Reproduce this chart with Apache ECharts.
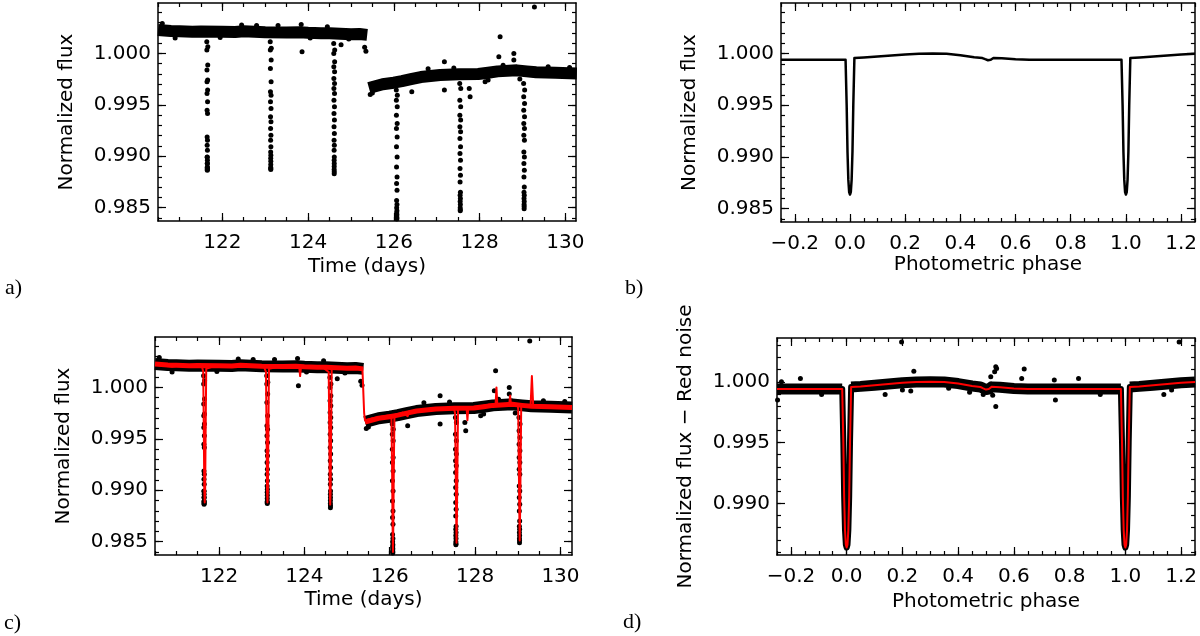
<!DOCTYPE html>
<html>
<head>
<meta charset="utf-8">
<script src="https://cdn.jsdelivr.net/npm/echarts@6/dist/echarts.min.js"></script>
<style>
  html, body { margin: 0; background: #fff; }
  #chart { width: 1200px; height: 636px; }
</style>
</head>
<body>
<div id="chart"></div>
<script>
// ---- tick values ----
const timeTicks = [122, 124, 126, 128, 130]
const timeMinor = [120.5, 121, 121.5, 122, 122.5, 123, 123.5, 124, 124.5, 125, 125.5, 126, 126.5, 127, 127.5, 128, 128.5, 129, 129.5, 130]
const phaseTicks = [-0.2, 0, 0.2, 0.4, 0.6, 0.8, 1.0, 1.2]
const phaseMinor = [-0.25, -0.2, -0.15, -0.1, -0.05, 0, 0.05, 0.1, 0.15, 0.2, 0.25, 0.3, 0.35, 0.4, 0.45, 0.5, 0.55, 0.6, 0.65, 0.7, 0.75, 0.8, 0.85, 0.9, 0.95, 1.0, 1.05, 1.1, 1.15, 1.2, 1.25]
const fluxTicks = [0.985, 0.990, 0.995, 1.000]
const fluxMinor = [0.984, 0.985, 0.986, 0.987, 0.988, 0.989, 0.990, 0.991, 0.992, 0.993, 0.994, 0.995, 0.996, 0.997, 0.998, 0.999, 1.000, 1.001, 1.002, 1.003, 1.004]
const fluxTicksD = [0.990, 0.995, 1.000]
const fluxMinorD = [0.986, 0.987, 0.988, 0.989, 0.990, 0.991, 0.992, 0.993, 0.994, 0.995, 0.996, 0.997, 0.998, 0.999, 1.000, 1.001, 1.002, 1.003]

// ---- light curve: dense out-of-eclipse band (centre of the black band) ----
const band1T = [120.50, 120.8, 121.0, 121.3, 121.5, 122.0, 122.3, 122.5, 123.0, 123.5, 123.8, 124.0, 124.3, 124.5, 125.0, 125.2, 125.38]
const band1F = [1.00228, 1.00218, 1.00215, 1.00210, 1.00212, 1.00210, 1.00208, 1.00215, 1.00205, 1.00203, 1.00206, 1.00200, 1.00197, 1.00195, 1.00185, 1.00188, 1.00180]
const band2T = [125.42, 125.74, 126.00, 126.19, 126.40, 126.63, 127.08, 127.52, 127.97, 128.20, 128.42, 128.87, 129.10, 129.32, 129.77, 130.27]
const band2F = [0.99663, 0.99700, 0.99715, 0.99730, 0.99750, 0.99770, 0.99790, 0.99798, 0.99800, 0.99812, 0.99825, 0.99835, 0.99825, 0.99817, 0.99812, 0.99805]

// ---- light curve: in-eclipse points ----
const dip1 = [[121.638,1.00114],[121.662,1.00065],[121.640,1.00032],[121.660,0.99886],[121.642,0.99838],[121.658,0.99740],[121.643,0.99724],[121.657,0.99643],[121.644,0.99610],[121.656,0.99529],[121.645,0.99448],[121.655,0.99416],[121.646,0.99188],[121.654,0.99156],[121.647,0.99107],[121.653,0.99058],[121.648,0.98993],[121.652,0.98961],[121.649,0.98928],[121.651,0.98896],[121.650,0.98880],[121.650,0.98864],[121.648,0.9899],[121.652,0.9893],[121.649,0.9889],[121.651,0.9887]]
const dip2 = [[123.118,1.00114],[123.142,1.00049],[123.120,1.00032],[123.140,0.99935],[123.122,0.99854],[123.138,0.99724],[123.123,0.99627],[123.137,0.99594],[123.124,0.99529],[123.136,0.99464],[123.125,0.99383],[123.135,0.99334],[123.126,0.99269],[123.134,0.99204],[123.127,0.99156],[123.133,0.99091],[123.128,0.99042],[123.132,0.9901],[123.129,0.9898],[123.131,0.9895],[123.130,0.9892],[123.129,0.9889],[123.131,0.9887],[123.130,0.9888]]
const dip3 = [[124.598,1.00097],[124.622,1.00032],[124.600,1.00000],[124.620,0.99919],[124.601,0.99870],[124.619,0.99821],[124.602,0.99756],[124.618,0.99708],[124.603,0.99659],[124.617,0.99610],[124.604,0.99545],[124.616,0.99480],[124.605,0.99416],[124.615,0.99351],[124.606,0.99286],[124.614,0.99221],[124.607,0.99156],[124.613,0.99107],[124.608,0.99058],[124.612,0.98993],[124.609,0.9896],[124.611,0.9893],[124.610,0.9890],[124.609,0.9887],[124.611,0.9885],[124.610,0.9883]]
const dip4 = [[126.058,0.99643],[126.082,0.99594],[126.060,0.99545],[126.080,0.99480],[126.061,0.99399],[126.079,0.99318],[126.062,0.99269],[126.078,0.99188],[126.063,0.99091],[126.077,0.98993],[126.064,0.98896],[126.076,0.98799],[126.065,0.98734],[126.075,0.98669],[126.066,0.9857],[126.074,0.9853],[126.067,0.9850],[126.073,0.9847],[126.068,0.9845],[126.072,0.9843],[126.069,0.9841],[126.071,0.9839],[126.070,0.9840]]
const dip5 = [[127.538,0.99708],[127.562,0.99659],[127.540,0.99545],[127.560,0.99480],[127.541,0.99399],[127.559,0.99351],[127.542,0.99286],[127.558,0.99237],[127.543,0.99172],[127.557,0.99091],[127.544,0.99026],[127.556,0.98961],[127.545,0.98880],[127.555,0.98815],[127.546,0.98750],[127.554,0.9865],[127.547,0.9862],[127.553,0.9859],[127.548,0.9856],[127.552,0.9853],[127.549,0.9850],[127.551,0.9848],[127.550,0.9847]]
const dip6 = [[129.028,0.99708],[129.052,0.99643],[129.030,0.99578],[129.050,0.99513],[129.031,0.99448],[129.049,0.99383],[129.032,0.99318],[129.048,0.99269],[129.033,0.99204],[129.047,0.99156],[129.034,0.99042],[129.046,0.98993],[129.035,0.98928],[129.045,0.98864],[129.036,0.98799],[129.044,0.98701],[129.037,0.9865],[129.043,0.9862],[129.038,0.9859],[129.042,0.9856],[129.039,0.9853],[129.041,0.9851],[129.040,0.9849]]

// ---- light curve: stray points off the band (incl. ragged band edges) ----
const outT = [123.84, 123.86, 124.77, 125.32, 125.35, 126.42, 127.18, 127.18, 127.76, 127.78, 128.13, 128.20, 128.48, 128.45, 128.80, 128.80, 128.94, 129.28,
  120.90, 121.95, 122.45, 123.30, 124.05, 124.95, 120.60, 122.80, 124.45, 125.45, 125.50, 126.80, 127.40, 128.55, 129.60, 130.10]
const outF = [1.00282, 1.00015, 1.00085, 1.00060, 1.00020, 0.99627, 0.99643, 0.99919, 0.99659, 0.99578, 0.99724, 0.99740, 1.00162, 0.99968, 1.00000, 0.99935, 0.99750, 1.00450,
  1.00150, 1.00155, 1.00275, 1.00270, 1.00150, 1.00140, 1.00290, 1.00270, 1.00260, 0.99600, 0.99615, 0.99850, 0.99858, 0.99885, 0.99870, 0.99862]

// ---- panel c: red-noise + transit model ----
const redT = [120.50, 120.70, 120.90, 121.10, 121.40, 121.60,
  121.630, 121.645, 121.655, 121.665, 121.675, 121.685, 121.700,
  121.90, 122.20, 122.50, 122.80, 123.05,
  123.100, 123.115, 123.125, 123.135, 123.145, 123.155, 123.170,
  123.40, 123.70, 123.88, 123.90, 123.92, 124.20, 124.45,
  124.570, 124.585, 124.595, 124.605, 124.615, 124.625, 124.640,
  124.90, 125.10, 125.36, 125.40, 125.42, 125.60, 125.80, 126.00,
  126.040, 126.055, 126.065, 126.075, 126.085, 126.095, 126.110,
  126.30, 126.42, 126.45, 126.70, 127.00, 127.30, 127.50,
  127.530, 127.545, 127.555, 127.565, 127.575, 127.585, 127.600,
  127.80, 127.82, 127.84, 128.10, 128.30, 128.48, 128.50, 128.52, 128.80, 128.82, 128.84, 129.00,
  129.010, 129.025, 129.035, 129.045, 129.055, 129.065, 129.080,
  129.30, 129.33, 129.36, 129.60, 129.90, 130.27]
const redF = [1.00220, 1.00212, 1.00200, 1.00215, 1.00208, 1.00205,
  1.00150, 0.99500, 0.99000, 0.98880, 0.99000, 0.99500, 1.00180,
  1.00210, 1.00205, 1.00215, 1.00200, 1.00205,
  1.00150, 0.99500, 0.99000, 0.98880, 0.99000, 0.99500, 1.00180,
  1.00200, 1.00205, 1.00195, 1.00110, 1.00195, 1.00200, 1.00190,
  1.00150, 0.99500, 0.99000, 0.98860, 0.99000, 0.99500, 1.00180,
  1.00190, 1.00185, 1.00180, 0.99750, 0.99680, 0.99700, 0.99715, 0.99730,
  0.99700, 0.99200, 0.98700, 0.98400, 0.98700, 0.99200, 0.99730,
  0.99755, 0.99720, 0.99765, 0.99780, 0.99795, 0.99800, 0.99800,
  0.99750, 0.99200, 0.98800, 0.98490, 0.98800, 0.99200, 0.99800,
  0.99805, 0.99680, 0.99805, 0.99815, 0.99830, 0.99835, 1.00000, 0.99835, 0.99835, 0.99920, 0.99835, 0.99830,
  0.99780, 0.99200, 0.98800, 0.98510, 0.98800, 0.99200, 0.99820,
  0.99825, 1.00110, 0.99825, 0.99820, 0.99815, 0.99815]

// ---- phase-folded model (panel b, red curve of panel d) ----
const phaseX = [-0.25, -0.016, -0.012, -0.009, -0.006, -0.003, 0.0, 0.003, 0.006, 0.009, 0.012, 0.016,
  0.05, 0.10, 0.15, 0.20, 0.25, 0.30, 0.35, 0.40, 0.45, 0.48, 0.49, 0.50, 0.51, 0.52, 0.55, 0.60, 0.65,
  0.984, 0.988, 0.991, 0.994, 0.997, 1.0, 1.003, 1.006, 1.009, 1.012, 1.016,
  1.05, 1.10, 1.15, 1.20, 1.25]
const modelF = [0.99941, 0.99941, 0.99500, 0.99050, 0.98780, 0.98660, 0.98636, 0.98660, 0.98780, 0.99050, 0.99500, 0.99957,
  0.99962, 0.99972, 0.99982, 0.99992, 0.99999, 1.00000, 0.99998, 0.99985, 0.99965, 0.99957, 0.99946, 0.99936, 0.99940, 0.99958, 0.99955, 0.99945, 0.99941,
  0.99941, 0.99500, 0.99050, 0.98780, 0.98660, 0.98636, 0.98660, 0.98780, 0.99050, 0.99500, 0.99957,
  0.99962, 0.99972, 0.99982, 0.99992, 0.99999]

// ---- panel d: points scattered off the folded band ----
const dOutP = [0.197, 1.193, 0.241, 0.637, 0.535, 0.535, -0.166, 0.832, 0.745, 0.749, 0.441, 0.366, 0.230, 0.138, 0.910, 1.138, -0.090, -0.248, 0.628, 0.490, 0.524, 0.531, 0.538, 0.517, 0.200, 1.166, -0.234, 1.200]
const dOutF = [1.00327, 1.00327, 1.00087, 1.00104, 1.00123, 0.99796, 1.00027, 1.00027, 1.00014, 0.99850, 0.99913, 0.99946, 0.99924, 0.99896, 0.99896, 0.99896, 0.99896, 0.99850, 1.00027, 0.99896, 0.99890, 1.00082, 1.00109, 1.00041, 0.99932, 0.99932, 1.00000, 0.99986]

const FONT = 'DejaVu Sans'
const zip = (a, b) => a.map((v, i) => [v, b[i]])
const fmt3 = v => v.toFixed(3)
const fmtPhase = v => v.toFixed(1).replace('-', '\u2212')

const chartsBox = echarts.init(document.getElementById('chart'))

const grids = [
  { left: 158, top: 3, width: 418, height: 218 },
  { left: 781, top: 3, width: 416, height: 219 },
  { left: 155, top: 337, width: 417, height: 218 },
  { left: 777, top: 338, width: 420, height: 217 },
]

const xAxes = []
const yAxes = []
const lineStyle = { color: '#000', width: 1.5 }
const labelStyle = { color: '#000', fontFamily: FONT, fontSize: 20 }

// four x axes and four y axes per grid: main (labels + major), minor, opposite major, opposite minor
function boxAxes(g, xr, yr, xMaj, xMin, yMaj, yMin, xFmt, xName, xGap, yName) {
  const mk = (pos, major, min, max, ticks) => ({
    type: 'value', gridIndex: g, position: pos, min, max,
    axisLine: { show: major, onZero: false, lineStyle },
    axisTick: { show: true, inside: true, length: major ? 8 : 4, customValues: ticks, lineStyle: { color: '#000', width: 1.2 } },
    axisLabel: { show: false },
    splitLine: { show: false },
  })
  const xm = mk('bottom', true, xr[0], xr[1], xMaj)
  xm.axisLabel = { show: true, customValues: xMaj, formatter: xFmt, margin: 12, ...labelStyle }
  xm.name = xName
  xm.nameLocation = 'middle'
  xm.nameGap = xGap
  xm.nameTextStyle = { ...labelStyle }
  xAxes.push(xm, mk('bottom', false, xr[0], xr[1], xMin),
    mk('top', true, xr[0], xr[1], xMaj), mk('top', false, xr[0], xr[1], xMin))
  const ym = mk('left', true, yr[0], yr[1], yMaj)
  ym.axisLabel = { show: true, customValues: yMaj, formatter: fmt3, margin: 7, ...labelStyle }
  ym.name = yName
  ym.nameLocation = 'middle'
  ym.nameGap = 81
  ym.nameTextStyle = { ...labelStyle }
  yAxes.push(ym, mk('left', false, yr[0], yr[1], yMin),
    mk('right', true, yr[0], yr[1], yMaj), mk('right', false, yr[0], yr[1], yMin))
}

boxAxes(0, [120.5, 130.25], [0.9837, 1.0049], timeTicks, timeMinor, fluxTicks, fluxMinor, v => String(v), 'Time (days)', 36, 'Normalized flux')
boxAxes(1, [-0.25, 1.25], [0.9837, 1.0049], phaseTicks, phaseMinor, fluxTicks, fluxMinor, fmtPhase, 'Photometric phase', 33, 'Normalized flux')
boxAxes(2, [120.5, 130.27], [0.9837, 1.0049], timeTicks, timeMinor, fluxTicks, fluxMinor, v => String(v), 'Time (days)', 35, 'Normalized flux')
boxAxes(3, [-0.25, 1.25], [0.98575, 1.0036], phaseTicks, phaseMinor, fluxTicksD, fluxMinorD, fmtPhase, 'Photometric phase', 37, 'Normalized flux \u2212 Red noise')

const ax = g => ({ xAxisIndex: g * 4, yAxisIndex: g * 4 })
const line = (g, data, color, width, z) => ({
  type: 'line', ...ax(g), data, showSymbol: false, symbol: 'none', z,
  lineStyle: { color, width, cap: 'butt', join: 'round' }, silent: true,
})
const dots = (g, data, size, z) => ({
  type: 'scatter', ...ax(g), data, symbolSize: size, z,
  itemStyle: { color: '#000', opacity: 1 }, silent: true,
})

const dips = [].concat(dip1, dip2, dip3, dip4, dip5, dip6)
const model = zip(phaseX, modelF)
const series = []
// panels a and c: observed light curve
for (const g of [0, 2]) {
  series.push(line(g, zip(band1T, band1F), '#000', 12, 2))
  series.push(line(g, zip(band2T, band2F), '#000', 12, 2))
  series.push(dots(g, dips, 5, 3))
  series.push(dots(g, zip(outT, outF), 5, 3))
}
// panel c: red model over the data
series.push(line(2, zip(band1T, band1F), '#ff0000', 5, 4))
series.push(line(2, zip(band2T, band2F), '#ff0000', 5, 4))
series.push(line(2, zip(redT, redF), '#ff0000', 2, 5))
// panel b: model alone
series.push(line(1, model, '#000', 2.5, 3))
// panel d: folded data and model
series.push(line(3, model.slice(0, 2), '#000', 11, 2))
series.push(line(3, model.slice(11, 30), '#000', 11, 2))
series.push(line(3, model.slice(39), '#000', 11, 2))
series.push(line(3, model, '#000', 6, 2))
series.push(dots(3, zip(dOutP, dOutF), 5, 3))
series.push(line(3, model, '#ff0000', 2, 5))

const panelLabel = (text, left, top) => ({
  type: 'text', left, top,
  style: { text, fill: '#000', font: '22px "Liberation Serif", serif' },
})

const options = {
  animation: false,
  backgroundColor: '#fff',
  grid: grids,
  xAxis: xAxes,
  yAxis: yAxes,
  series,
  graphic: [
    panelLabel('a)', 5, 277),
    panelLabel('b)', 625, 277),
    panelLabel('c)', 4, 612),
    panelLabel('d)', 623, 611),
  ],
}
chartsBox.setOption(options, true)
</script>
</body>
</html>
